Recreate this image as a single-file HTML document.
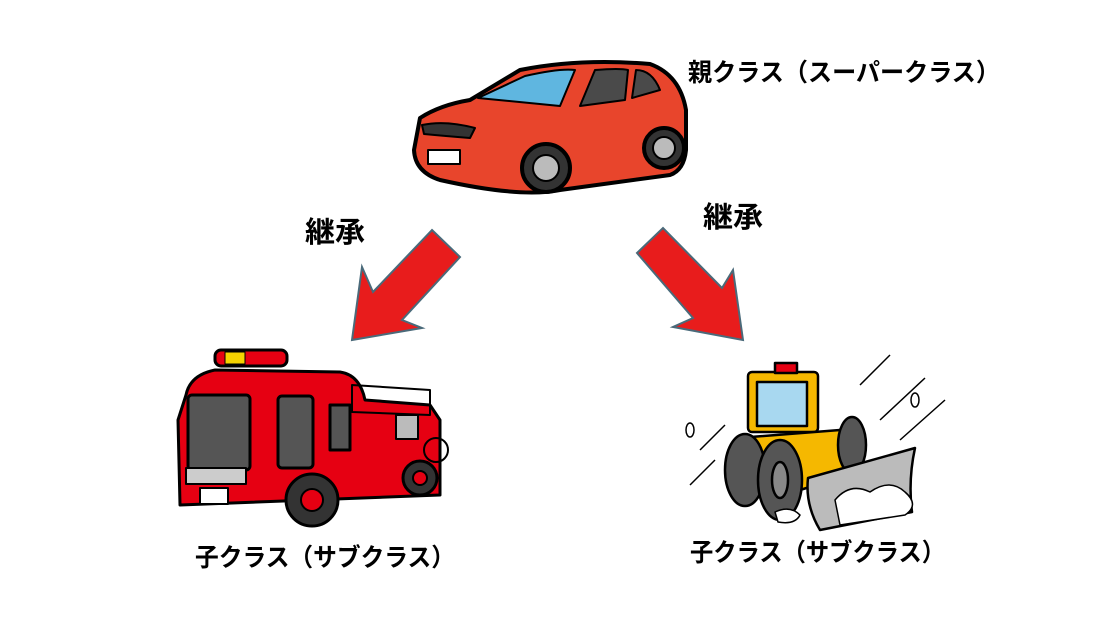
<!DOCTYPE html>
<html><head><meta charset="utf-8"><style>
html,body{margin:0;padding:0;background:#fff;}
svg{display:block}
text{font-family:"Liberation Sans","Noto Sans CJK JP",sans-serif;font-weight:bold;fill:#000}
</style></head><body>
<svg width="1100" height="619" viewBox="0 0 1100 619" xmlns="http://www.w3.org/2000/svg">
<rect width="1100" height="619" fill="#fff"/>
<!-- Car -->
<g stroke="#000" stroke-width="4" stroke-linejoin="round">
<path d="M420 118 Q440 105 470 100 L520 70 Q580 58 650 64 Q680 75 686 110 L686 150 Q684 170 670 175 L560 190 Q520 198 440 180 Q415 172 414 150 Z" fill="#e8452c"/>
<path d="M478 98 L525 76 Q560 68 575 70 L560 106 Z" fill="#5fb6e0" stroke-width="2"/>
<path d="M580 106 L595 70 Q620 68 628 70 L625 100 Z" fill="#4a4a4a" stroke-width="2"/>
<path d="M632 98 L636 70 Q652 70 660 90 Z" fill="#4a4a4a" stroke-width="2"/>
<rect x="428" y="150" width="32" height="14" fill="#fff" stroke-width="2"/>
<path d="M422 125 Q445 120 475 128 L470 138 Q445 136 424 134 Z" fill="#333" stroke-width="2"/>
<circle cx="546" cy="168" r="24" fill="#333"/>
<circle cx="546" cy="168" r="13" fill="#bbb" stroke-width="2"/>
<circle cx="664" cy="148" r="20" fill="#333"/>
<circle cx="664" cy="148" r="11" fill="#bbb" stroke-width="2"/>
</g>
<text x="688" y="81" font-size="25" textLength="312" lengthAdjust="spacingAndGlyphs">親クラス（スーパークラス）</text>
<text x="305" y="242" font-size="29" textLength="60" lengthAdjust="spacingAndGlyphs">継承</text>
<text x="703" y="227" font-size="29" textLength="60" lengthAdjust="spacingAndGlyphs">継承</text>
<!-- Arrows -->
<g fill="#e81c1c" stroke="#4a6a7a" stroke-width="2" stroke-linejoin="miter">
<polygon points="432,230 460,257 402,320 422,328 352,340 362,267 373,292"/>
<polygon points="637,253 663,228 722,288 733,270 743,340 673,327 693,318"/>
</g>
<!-- Fire truck -->
<g stroke="#000" stroke-width="3" stroke-linejoin="round">
<rect x="215" y="350" width="72" height="16" rx="6" fill="#e60012"/>
<rect x="225" y="352" width="20" height="12" fill="#f5d200" stroke-width="1"/>
<path d="M186 395 Q190 375 215 370 L340 372 Q360 375 365 400 L430 405 L440 420 L440 495 L180 505 L178 420 Z" fill="#e60012"/>
<path d="M352 385 L430 390 L430 415 L352 412 Z" fill="none" stroke-width="2"/>
<rect x="188" y="395" width="62" height="75" rx="4" fill="#555"/>
<rect x="278" y="396" width="35" height="72" rx="4" fill="#555"/>
<rect x="330" y="405" width="20" height="45" fill="#555"/>
<rect x="396" y="415" width="22" height="24" fill="#bbb" stroke-width="2"/>
<rect x="186" y="468" width="60" height="16" fill="#ccc" stroke-width="2"/>
<rect x="200" y="488" width="28" height="16" fill="#fff" stroke-width="2"/>
<circle cx="312" cy="500" r="26" fill="#333"/>
<circle cx="312" cy="500" r="11" fill="#e60012" stroke-width="2"/>
<circle cx="420" cy="478" r="17" fill="#333"/>
<circle cx="420" cy="478" r="7" fill="#e60012" stroke-width="2"/>
<circle cx="436" cy="450" r="12" fill="none" stroke-width="2"/>
</g>
<text x="195" y="566" font-size="25" textLength="260" lengthAdjust="spacingAndGlyphs">子クラス（サブクラス）</text>
<!-- Snowplow -->
<g stroke="#000" stroke-width="2.5" stroke-linejoin="round">
<rect x="748" y="372" width="70" height="60" rx="4" fill="#f5b800"/>
<rect x="757" y="382" width="50" height="44" fill="#a8d8f0"/>
<rect x="775" y="363" width="22" height="10" fill="#e60012"/>
<path d="M738 438 L840 430 L865 470 L800 490 L738 480 Z" fill="#f5b800"/>
<ellipse cx="745" cy="470" rx="20" ry="36" fill="#555"/>
<ellipse cx="780" cy="480" rx="22" ry="40" fill="#555"/>
<ellipse cx="780" cy="480" rx="8" ry="18" fill="#888"/>
<ellipse cx="852" cy="445" rx="14" ry="28" fill="#555"/>
<path d="M808 478 L915 448 Q908 480 912 512 L820 530 Q805 505 808 478 Z" fill="#bbb"/>
<path d="M835 500 Q850 482 870 492 Q890 478 905 492 Q920 505 905 515 L840 525 Z" fill="#fff" stroke-width="1.5"/>
<path d="M775 512 Q790 505 800 515 Q795 525 778 522 Z" fill="#fff" stroke-width="1.5"/>
</g>
<g stroke="#000" stroke-width="1.5" fill="none">
<line x1="860" y1="385" x2="890" y2="355"/><line x1="880" y1="420" x2="925" y2="378"/>
<line x1="900" y1="440" x2="945" y2="400"/><line x1="700" y1="450" x2="725" y2="425"/>
<line x1="690" y1="485" x2="715" y2="460"/>
<ellipse cx="690" cy="430" rx="4" ry="7"/><ellipse cx="915" cy="400" rx="4" ry="7"/>
</g>
<text x="690" y="561" font-size="25" textLength="255" lengthAdjust="spacingAndGlyphs">子クラス（サブクラス）</text>
</svg>
</body></html>
